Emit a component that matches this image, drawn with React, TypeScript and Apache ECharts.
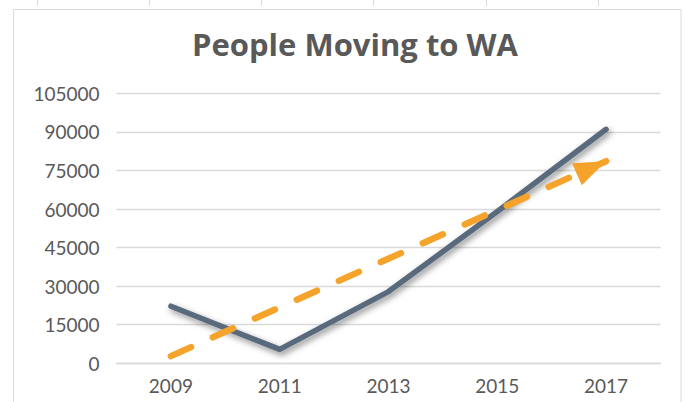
import React, { useEffect, useRef } from "react";
import * as echarts from "echarts";

const years = ["2009", "2011", "2013", "2015", "2017"];
const people = [22200, 5400, 27900, 59000, 91000];
// trendline endpoints (2009 -> 2017)
const trendStart = 2800;
const trendEnd = 78600;
const yTicks = { min: 0, max: 105000, interval: 15000 };
const title = "People Moving to WA";

export default function App() {
  const ref = useRef<HTMLDivElement>(null);
  useEffect(() => {
    document.body.style.margin = "0";
    const chart = echarts.init(ref.current!, null, { renderer: "svg" });
    const labelColor = "#595959";
    const gridColor = "#D9D9D9";
    const topTicks = [37, 149, 261, 373, 486, 598].map((x) => ({
      type: "line",
      shape: { x1: x + 0.5, y1: 0, x2: x + 0.5, y2: 6 },
      style: { stroke: gridColor, lineWidth: 1 },
      silent: true,
    }));
    chart.setOption({
      animation: false,
      backgroundColor: "#fff",
      title: {
        text: title,
        left: 350,
        top: 23,
        textAlign: "center",
        textStyle: {
          fontFamily: "Open Sans",
          fontWeight: "bold",
          fontSize: 31,
          color: labelColor,
        },
      },
      graphic: [
        {
          type: "rect",
          shape: { x: 13.5, y: 9.5, width: 667.5, height: 420 },
          style: { fill: "none", stroke: gridColor, lineWidth: 1 },
          silent: true,
          z: -1,
        },
        ...topTicks,
      ],
      grid: { left: 116.5, right: 25.5, top: 93.3, bottom: 38.7 },
      xAxis: {
        type: "category",
        data: years,
        boundaryGap: true,
        axisLine: { show: true, lineStyle: { color: gridColor, width: 1.3 } },
        axisTick: { show: false },
        axisLabel: {
          fontFamily: "Lato",
          fontSize: 19,
          color: labelColor,
          margin: 13,
        },
      },
      yAxis: {
        type: "value",
        min: yTicks.min,
        max: yTicks.max,
        interval: yTicks.interval,
        axisLine: { show: false },
        axisTick: { show: false },
        splitLine: { lineStyle: { color: gridColor, width: 1.3 } },
        axisLabel: {
          fontFamily: "Lato",
          fontSize: 19,
          color: labelColor,
          margin: 17,
          formatter: (v: number) => String(v),
        },
      },
      series: [
        {
          type: "line",
          data: people,
          symbol: "none",
          lineStyle: {
            color: "#5A6B7D",
            width: 5.5,
            cap: "round",
            join: "round",
            shadowColor: "rgba(0,0,0,0.45)",
            shadowBlur: 6,
            shadowOffsetX: 2,
            shadowOffsetY: 3,
          },
          z: 3,
        },
        {
          type: "line",
          data: [],
          symbol: "none",
          markLine: {
            silent: true,
            symbol: ["none", "triangle"],
            symbolSize: [24, 32],
            symbolOffset: [0, [0, 16]],
            label: { show: false },
            lineStyle: {
              color: "#F5A32A",
              width: 6.5,
              type: [22, 24],
              cap: "round",
            },
            itemStyle: { color: "#F5A32A" },
            data: [
              [
                { coord: [0, trendStart] },
                { coord: [years.length - 1, trendEnd] },
              ],
            ],
            z: 5,
          },
          z: 5,
        },
      ],
    });
    return () => chart.dispose();
  }, []);
  return <div ref={ref} style={{ width: 686, height: 402 }} />;
}
